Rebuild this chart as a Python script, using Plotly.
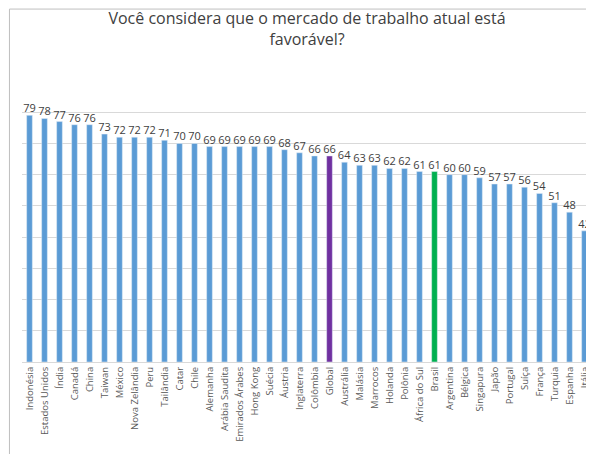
import plotly.graph_objects as go

countries = ["Indonésia","Estados Unidos","Índia","Canadá","China","Taiwan","México","Nova Zelândia","Peru","Tailândia","Catar","Chile","Alemanha","Arábia Saudita","Emirados Árabes","Hong Kong","Suécia","Áustria","Inglaterra","Colômbia","Global","Austrália","Malásia","Marrocos","Holanda","Polônia","África do Sul","Brasil","Argentina","Bélgica","Singapura","Japão","Portugal","Suíça","França","Turquia","Espanha","Itália"]
values = [79,78,77,76,76,73,72,72,72,71,70,70,69,69,69,69,69,68,67,66,66,64,63,63,62,62,61,61,60,60,59,57,57,56,54,51,48,42]

colors = ["#7030A0" if c == "Global" else "#00B050" if c == "Brasil" else "#5B9BD5" for c in countries]

fig = go.Figure(go.Bar(
    x=countries, y=values, marker_color=colors, width=0.38,
    text=[str(v) for v in values], textposition="outside", textangle=0,
    constraintext="none",
    textfont=dict(size=11, color="#404040"), cliponaxis=False,
))
fig.update_layout(
    width=594, height=454, paper_bgcolor="white", plot_bgcolor="white",
    margin=dict(l=14, r=10, t=73, b=100),
    title=dict(text="Você considera que o mercado de trabalho atual está<br>favorável?",
               x=0.5, xanchor="center", xref="paper", y=0.965, yref="container", yanchor="top",
               font=dict(family="Open Sans", size=16, color="#404040")),
    font=dict(family="Open Sans", color="#404040"),
    showlegend=False, bargap=0.6,
    shapes=[dict(type="rect", xref="paper", yref="paper", x0=-0.022, x1=1.015, y0=-0.352, y1=1.256,
                 line=dict(color="#BFBFBF", width=1))],
)
fig.update_xaxes(tickangle=-90, tickfont=dict(size=9.5, color="#595959"), showline=True,
                 linecolor="#D9D9D9", ticks="")
fig.update_yaxes(range=[0, 90], dtick=10, showgrid=True, gridcolor="#D9D9D9",
                 showticklabels=False, zeroline=False)
fig.write_html("out.html")
